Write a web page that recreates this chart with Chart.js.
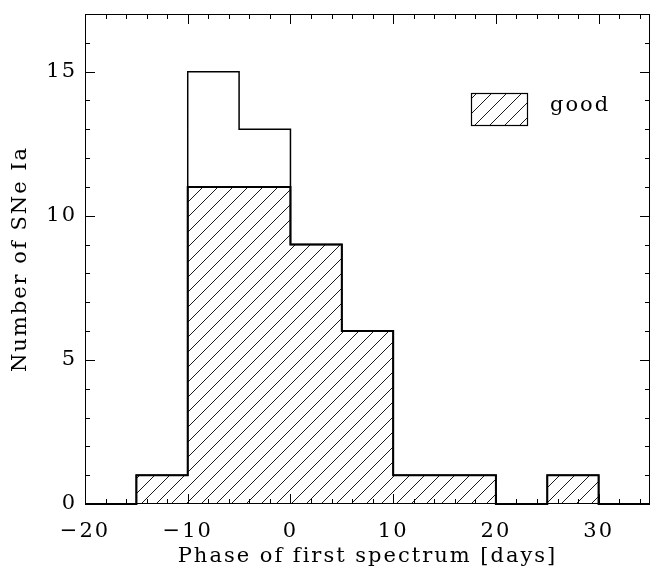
<!DOCTYPE html>
<html>
<head>
<meta charset="utf-8">
<script src="https://cdn.jsdelivr.net/npm/chart.js@4"></script>
<style>
  html, body { margin: 0; padding: 0; background: #fff; }
  #wrap { width: 652px; height: 572px; }
</style>
</head>
<body>
<div id="wrap"><canvas id="hist-chart"></canvas></div>
<script>
// histogram bins (phase in days) and counts per bin
let binEdges = [-20, -15, -10, -5, 0, 5, 10, 15, 20, 25, 30, 35];
let allCounts = [0, 1, 15, 13, 9, 6, 1, 1, 0, 1, 0];
let goodCounts = [0, 1, 11, 11, 9, 6, 1, 1, 0, 1, 0];
let xTickLabels = [-20, -10, 0, 10, 20, 30];
let yTickLabels = [0, 5, 10, 15];
let legendLabel = 'good';

let FONT = 'DejaVu Serif';
let FSIZE = 21;

function stepPoints(counts) {
  return binEdges.map((e, i) => ({ x: e, y: i < counts.length ? counts[i] : counts[counts.length - 1] }));
}

function makeHatch() {
  let c = document.createElement('canvas');
  c.width = 15; c.height = 15;
  let g = c.getContext('2d');
  g.strokeStyle = '#000';
  g.lineWidth = 0.9;
  g.beginPath();
  g.moveTo(-1, 16); g.lineTo(16, -1);
  g.moveTo(-16, 16); g.lineTo(1, -1);
  g.moveTo(14, 16); g.lineTo(31, -1);
  g.stroke();
  return g.createPattern(c, 'repeat');
}
let hatch = makeHatch();

// wide Hershey-like lettering
let spacingPlugin = {
  id: 'spacing',
  beforeInit(chart) { chart.ctx.letterSpacing = '2px'; },
  beforeDraw(chart) { chart.ctx.letterSpacing = '2px'; }
};

// IDL-style inward ticks on all four sides, plus the legend box
let framePlugin = {
  id: 'frame',
  afterDraw(chart) {
    let ctx = chart.ctx;
    let a = chart.chartArea;
    let xs = chart.scales.x, ys = chart.scales.y;
    ctx.save();
    ctx.strokeStyle = '#000';
    ctx.lineWidth = 1;
    ctx.strokeRect(a.left + 0.5, a.top + 0.5, a.right - a.left - 1, a.bottom - a.top - 1);
    ctx.beginPath();
    for (let v = xs.min; v < xs.max; v += 2) {
      let px = Math.round(xs.getPixelForValue(v)) + 0.5;
      let len = (v % 10 === 0) ? 10 : 5;
      ctx.moveTo(px, a.bottom); ctx.lineTo(px, a.bottom - len);
      ctx.moveTo(px, a.top); ctx.lineTo(px, a.top + len);
    }
    for (let v = ys.min; v < ys.max; v += 1) {
      let py = Math.round(ys.getPixelForValue(v)) + 0.5;
      let len = (v % 5 === 0) ? 10 : 5;
      ctx.moveTo(a.left, py); ctx.lineTo(a.left + len, py);
      ctx.moveTo(a.right, py); ctx.lineTo(a.right - len, py);
    }
    ctx.stroke();

    // legend
    let bx = 471, by = 93, bw = 56, bh = 32;
    ctx.fillStyle = hatch;
    ctx.fillRect(bx, by, bw, bh);
    ctx.lineWidth = 1.2;
    ctx.strokeRect(bx + 0.5, by + 0.5, bw, bh);
    ctx.fillStyle = '#000';
    ctx.font = FSIZE + 'px "' + FONT + '"';
    ctx.letterSpacing = '2px';
    ctx.textBaseline = 'middle';
    ctx.fillText(legendLabel, 550, 106);
    ctx.restore();
  }
};

let histChart = new Chart(document.getElementById('hist-chart').getContext('2d'), {
  type: 'line',
  data: {
    datasets: [{
      label: 'all',
      data: stepPoints(allCounts),
      stepped: 'before',
      borderColor: '#000',
      borderWidth: 1.5,
      fill: false,
      pointRadius: 0,
      clip: 3
    }, {
      label: legendLabel,
      data: stepPoints(goodCounts),
      stepped: 'before',
      borderColor: '#000',
      borderWidth: 2,
      backgroundColor: hatch,
      fill: 'origin',
      pointRadius: 0,
      clip: 3
    }]
  },
  plugins: [spacingPlugin, framePlugin],
  options: {
    responsive: true,
    maintainAspectRatio: false,
    animation: false,
    layout: { padding: { top: 14, right: 2, left: 0, bottom: 0 } },
    scales: {
      x: {
        type: 'linear',
        min: -20,
        max: 35,
        afterBuildTicks: (axis) => { axis.ticks = xTickLabels.map(v => ({ value: v })); },
        afterFit: (axis) => { axis.height = 68; axis.paddingLeft = 0; axis.paddingRight = 0; },
        grid: { display: false, drawTicks: false },
        border: { display: false },
        ticks: {
          color: '#000',
          font: { family: FONT, size: FSIZE },
          padding: 15,
          maxRotation: 0,
          callback: (v) => String(v).replace('-', '\u2212')
        },
        title: {
          display: true,
          text: 'Phase of first spectrum [days]',
          color: '#000',
          font: { family: FONT, size: FSIZE },
          padding: { top: 0, bottom: 3 }
        }
      },
      y: {
        type: 'linear',
        min: 0,
        max: 17,
        afterBuildTicks: (axis) => { axis.ticks = yTickLabels.map(v => ({ value: v })); },
        afterFit: (axis) => { axis.width = 85; axis.paddingTop = 0; axis.paddingBottom = 0; },
        grid: { display: false, drawTicks: false },
        border: { display: false },
        ticks: {
          color: '#000',
          font: { family: FONT, size: FSIZE },
          padding: 8
        },
        title: {
          display: true,
          text: 'Number of SNe Ia',
          color: '#000',
          font: { family: FONT, size: FSIZE },
          padding: { top: 8, bottom: 0 }
        }
      }
    },
    plugins: {
      legend: { display: false },
      tooltip: { enabled: false }
    }
  }
});
</script>
</body>
</html>
